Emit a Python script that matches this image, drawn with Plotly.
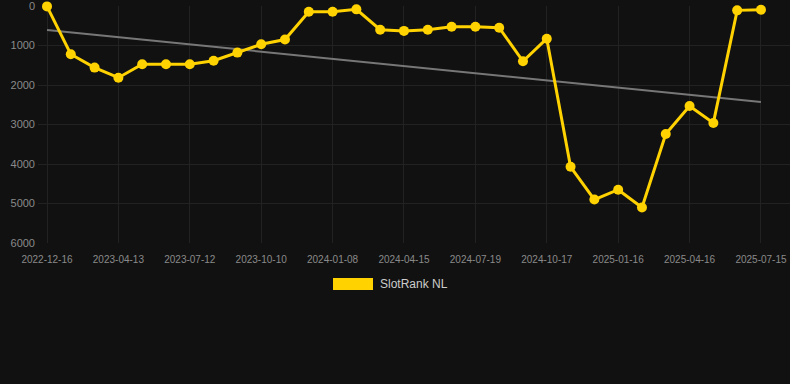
import numpy as np
import plotly.graph_objects as go

dates = [
    "2022-12-16", "2023-02-13", "2023-03-14", "2023-04-13", "2023-05-13", "2023-06-12",
    "2023-07-12", "2023-08-11", "2023-09-10", "2023-10-10", "2023-11-09", "2023-12-09",
    "2024-01-08", "2024-02-07", "2024-03-08", "2024-04-15", "2024-05-17", "2024-06-18",
    "2024-07-19", "2024-08-18", "2024-09-17", "2024-10-17", "2024-11-16", "2024-12-17",
    "2025-01-16", "2025-02-15", "2025-03-17", "2025-04-16", "2025-05-16", "2025-06-15",
    "2025-07-15",
]
rank = [
    10, 1220, 1560, 1815, 1475, 1475, 1475, 1385, 1180, 970, 850,
    145, 145, 85, 600, 630, 600, 525, 525, 550, 1400, 828,
    4070, 4900, 4650, 5100, 3240, 2530, 2960, 110, 95,
]
y_ticks = [0, 1000, 2000, 3000, 4000, 5000, 6000]
series_name = "SlotRank NL"

idx = np.arange(len(dates))
slope, intercept = np.polyfit(idx, rank, 1)
trend = slope * idx + intercept

font_family = "Arial, Liberation Sans, Helvetica, sans-serif"
yellow = "#FFD200"

fig = go.Figure()
fig.add_trace(go.Scatter(
    x=idx, y=trend, mode="lines",
    line=dict(color="#777777", width=2),
    showlegend=False, hoverinfo="skip",
))
fig.add_trace(go.Scatter(
    x=idx, y=rank, mode="lines+markers", name=series_name,
    line=dict(color=yellow, width=3),
    marker=dict(color=yellow, size=10),
    showlegend=False, cliponaxis=False,
))

tick_idx = list(range(0, len(dates), 3))
fig.update_xaxes(
    range=[-0.378, 31.22],
    tickmode="array", tickvals=tick_idx, ticktext=[dates[i] for i in tick_idx],
    showgrid=True, gridcolor="#222222", gridwidth=1,
    zeroline=False, showline=False, ticks="",
    tickfont=dict(family=font_family, size=10, color="#8a8a8a"),
    ticklabelstandoff=9, ticklabeloverflow="allow",
)
fig.update_yaxes(
    range=[6000, 0], tickmode="array", tickvals=y_ticks,
    showgrid=True, gridcolor="#222222", gridwidth=1,
    zeroline=False, showline=False, ticks="",
    tickfont=dict(family=font_family, size=11, color="#8a8a8a"),
    ticklabelstandoff=2, ticklabeloverflow="allow",
)

# legend drawn as swatch + label
fig.add_shape(type="rect", xref="paper", yref="paper",
              x0=(333 - 38) / 752, x1=(373 - 38) / 752,
              y0=(243 - 290) / 237, y1=(243 - 278) / 237,
              fillcolor=yellow, line=dict(width=0))
fig.add_annotation(xref="paper", yref="paper",
                   x=(378 - 38) / 752, y=(243 - 284) / 237,
                   text=series_name, showarrow=False, xanchor="left", yanchor="middle",
                   font=dict(family=font_family, size=12, color="#cccccc"))

fig.update_layout(
    width=790, height=384,
    margin=dict(l=38, r=0, t=6, b=141),
    paper_bgcolor="#111111", plot_bgcolor="#111111",
    showlegend=False,
)

fig.write_html(
    "out.html",
    config={"displayModeBar": False},
    post_script="document.body.style.margin='0';document.body.style.background='#111111';",
)
